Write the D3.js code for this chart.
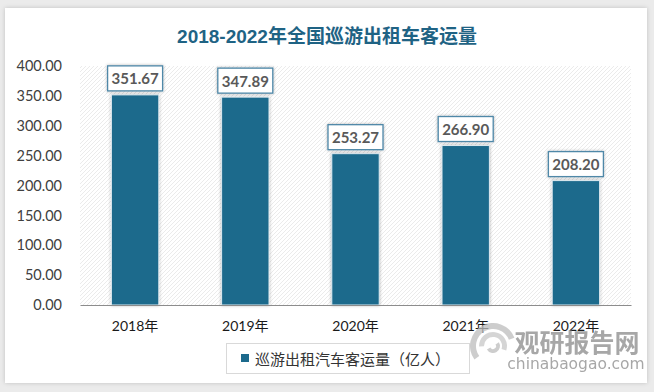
<!DOCTYPE html>
<html>
<head>
<meta charset="utf-8">
<script src="https://cdn.jsdelivr.net/npm/d3@7/dist/d3.min.js"></script>
<style>
  html, body { margin: 0; padding: 0; background: #ebebeb; }
  svg { display: block; }
</style>
</head>
<body>
<svg id="chart" width="654" height="392"></svg>
<script>
const titleText = "2018-2022年全国巡游出租车客运量";
const categories = ["2018年", "2019年", "2020年", "2021年", "2022年"];
const values = [351.67, 347.89, 253.27, 266.90, 208.20];
const yTicks = [0, 50, 100, 150, 200, 250, 300, 350, 400];
const seriesName = "巡游出租汽车客运量（亿人）";

const svg = d3.select("#chart");
const W = 654, H = 392;
const plot = { left: 80, right: 631, top: 66, bottom: 305 };

const defs = svg.append("defs");
const sh = defs.append("filter").attr("id", "panelShadow").attr("x", "-5%").attr("y", "-5%").attr("width", "110%").attr("height", "110%");
sh.append("feDropShadow").attr("dx", 0).attr("dy", 0).attr("stdDeviation", 2).attr("flood-color", "#000").attr("flood-opacity", 0.18);
const bs = defs.append("filter").attr("id", "barShadow").attr("x", "-30%").attr("y", "-30%").attr("width", "160%").attr("height", "160%");
bs.append("feDropShadow").attr("dx", 0).attr("dy", 0).attr("stdDeviation", 1.6).attr("flood-color", "#000").attr("flood-opacity", 0.3);
const pat = defs.append("pattern").attr("id", "hatch").attr("patternUnits", "userSpaceOnUse")
  .attr("width", 4).attr("height", 4);
pat.append("rect").attr("width", 4).attr("height", 4).attr("fill", "#ffffff");
pat.append("path").attr("d", "M-1,1 l2,-2 M0,4 l4,-4 M3,5 l2,-2").attr("stroke", "#ebebeb").attr("stroke-width", 1);

// background panel
svg.append("rect").attr("x", 0).attr("y", 0).attr("width", W).attr("height", H).attr("fill", "#ebebeb");
svg.append("rect").attr("x", 5).attr("y", 8).attr("width", 642).attr("height", 375)
  .attr("fill", "#ffffff").attr("filter", "url(#panelShadow)");

// title
svg.append("text").attr("x", 327).attr("y", 36).attr("text-anchor", "middle").attr("dominant-baseline", "central")
  .attr("font-family", "'Liberation Sans', 'Noto Sans CJK SC', sans-serif").attr("font-weight", "bold")
  .attr("font-size", 19).attr("fill", "#1f6384").text(titleText);

// plot area
svg.append("rect").attr("x", plot.left).attr("y", plot.top)
  .attr("width", plot.right - plot.left).attr("height", plot.bottom - plot.top).attr("fill", "url(#hatch)");

const x = d3.scaleBand().domain(categories).range([plot.left, plot.right]).paddingInner(0.57).paddingOuter(0.285);
const y = d3.scaleLinear().domain([0, 400]).range([plot.bottom, plot.top]);

// y axis
const yAxis = d3.axisLeft(y).tickValues(yTicks).tickFormat(d3.format(".2f")).tickSize(0).tickPadding(18);
const yg = svg.append("g").attr("transform", `translate(${plot.left},0)`).call(yAxis);
yg.select(".domain").remove();
yg.selectAll("text").attr("font-family", "Lato, 'Liberation Sans', sans-serif").attr("font-size", 14.5).attr("fill", "#404040");

// bars
svg.append("g").selectAll("rect").data(values).join("rect")
  .attr("x", (d, i) => x(categories[i]))
  .attr("y", d => y(d))
  .attr("width", x.bandwidth())
  .attr("height", d => y(0) - y(d))
  .attr("fill", "#1c6a8c")
  .attr("stroke", "#dfeaf0").attr("stroke-width", 1)
  .attr("filter", "url(#barShadow)");

// x axis
const xAxis = d3.axisBottom(x).tickSize(0).tickPadding(16);
const xg = svg.append("g").attr("transform", `translate(0,${plot.bottom})`).call(xAxis);
xg.select(".domain").attr("stroke", "#8c8c8c").attr("stroke-width", 1.2);
xg.selectAll("text").attr("font-family", "Lato, 'Noto Sans CJK SC', sans-serif").attr("font-size", 14).attr("fill", "#1a1a1a");

// data labels
const lbl = svg.append("g").selectAll("g").data(values).join("g")
  .attr("transform", (d, i) => `translate(${x(categories[i]) + x.bandwidth() / 2},${y(d) - 4})`);
lbl.append("rect").attr("x", -27.5).attr("y", -25).attr("width", 55).attr("height", 25)
  .attr("fill", "#ffffff").attr("stroke", "#4f88a8").attr("stroke-width", 1.3).attr("filter", "url(#barShadow)");
lbl.append("text").attr("x", 0).attr("y", -12.5).attr("text-anchor", "middle").attr("dominant-baseline", "central")
  .attr("font-family", "Lato, 'Liberation Sans', sans-serif").attr("font-weight", "bold").attr("font-size", 15)
  .attr("fill", "#595959").text(d => d3.format(".2f")(d));

// legend
const lg = svg.append("g");
lg.append("rect").attr("x", 226.5).attr("y", 343.5).attr("width", 243).attr("height", 30)
  .attr("fill", "#ffffff").attr("stroke", "#d9d9d9").attr("stroke-width", 1);
lg.append("rect").attr("x", 241).attr("y", 354).attr("width", 8).attr("height", 8).attr("fill", "#1c6a8c");
lg.append("text").attr("x", 255).attr("y", 358.5).attr("dominant-baseline", "central")
  .attr("font-family", "'Noto Sans CJK SC', sans-serif").attr("font-size", 15).attr("fill", "#333333")
  .text(seriesName);

// watermark
const wm = svg.append("g").attr("opacity", 0.75);
const arc = d3.arc();
wm.append("path").attr("transform", "translate(493,346)")
  .attr("d", arc({ innerRadius: 17, outerRadius: 23, startAngle: -2.2, endAngle: 1.2 })).attr("fill", "#bdbdbd");
wm.append("path").attr("transform", "translate(493,346)")
  .attr("d", arc({ innerRadius: 9, outerRadius: 14, startAngle: -1.6, endAngle: 1.9 })).attr("fill", "#c8c8c8");
wm.append("path").attr("transform", "translate(493,346)")
  .attr("d", arc({ innerRadius: 3, outerRadius: 7, startAngle: 1.0, endAngle: 4.2 })).attr("fill", "#bdbdbd");
wm.append("text").attr("x", 577).attr("y", 341).attr("text-anchor", "middle").attr("dominant-baseline", "central")
  .attr("font-family", "'Noto Sans CJK SC', sans-serif").attr("font-weight", "bold").attr("font-size", 25)
  .attr("fill", "#8a8a8a").text("观研报告网");
wm.append("text").attr("x", 576).attr("y", 364).attr("text-anchor", "middle").attr("dominant-baseline", "central")
  .attr("font-family", "'DejaVu Sans', sans-serif").attr("font-size", 15.5)
  .attr("fill", "#8a8a8a").text("chinabaogao.com");
</script>
</body>
</html>
